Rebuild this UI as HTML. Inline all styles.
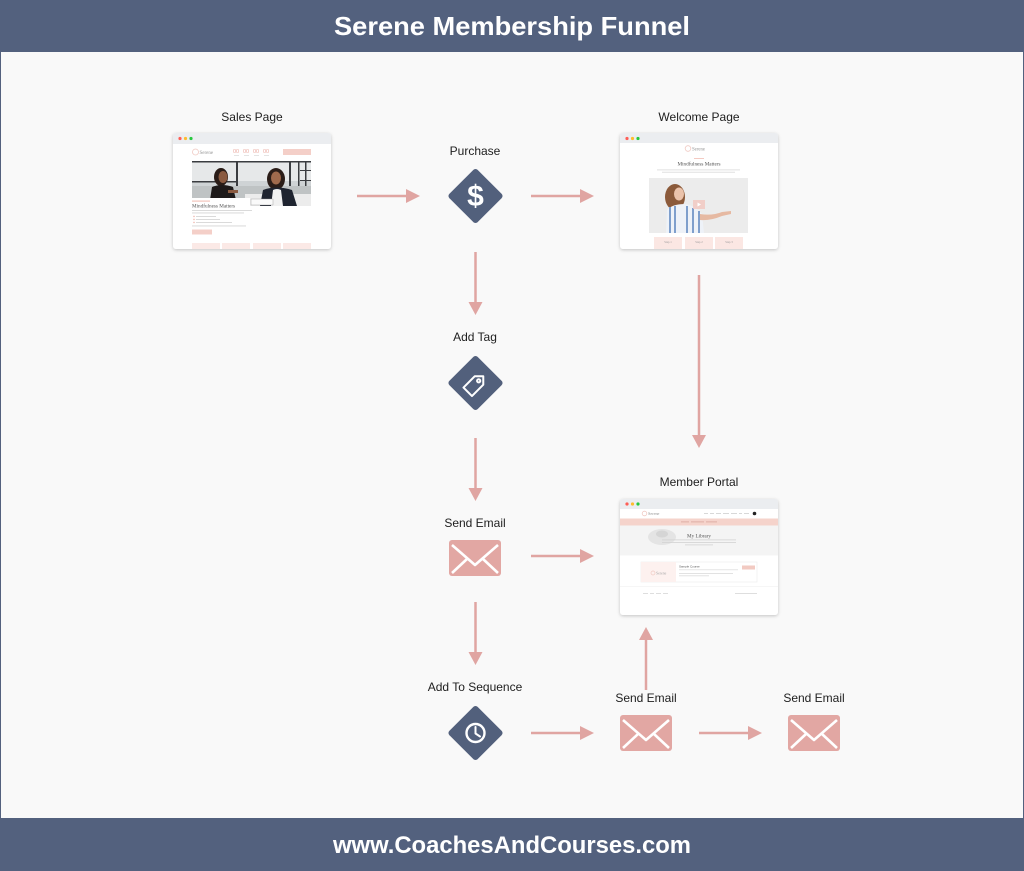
<!DOCTYPE html>
<html><head><meta charset="utf-8">
<style>
html,body{margin:0;padding:0;background:#53617e;}
svg{display:block;}
</style></head>
<body>
<svg width="1024" height="871" viewBox="0 0 1024 871" xmlns="http://www.w3.org/2000/svg" font-family="Liberation Sans, sans-serif">
<defs>
<filter id="sh" x="-10%" y="-10%" width="120%" height="130%">
<feDropShadow dx="0" dy="1" stdDeviation="1.5" flood-color="#000" flood-opacity="0.22"/>
</filter>
<g id="arrowR"><line x1="0" y1="0" x2="50" y2="0" stroke="#e0a5a2" stroke-width="2.5"/><polygon points="49,-7 63,0 49,7" fill="#e0a5a2"/></g>
<g id="env">
<rect x="0" y="0" width="52" height="36" rx="3" fill="#e2a7a3"/>
<polyline points="3,5 26,25 49,5" fill="none" stroke="#fff" stroke-width="2.6" stroke-linejoin="round"/>
<line x1="3" y1="33" x2="18" y2="19" stroke="#fff" stroke-width="2.6"/>
<line x1="49" y1="33" x2="34" y2="19" stroke="#fff" stroke-width="2.6"/>
</g>
<g id="dia"><rect x="-20" y="-20" width="40" height="40" rx="3" fill="#52607c" transform="rotate(45)"/></g>
</defs>

<!-- background -->
<rect x="0" y="0" width="1024" height="871" fill="#53617e"/>
<rect x="1" y="52" width="1022" height="766" fill="#f9f9f9"/>

<text x="512" y="35" text-anchor="middle" font-size="26" font-weight="bold" fill="#fff" textLength="356" lengthAdjust="spacingAndGlyphs">Serene Membership Funnel</text>
<text x="512" y="853" text-anchor="middle" font-size="24" font-weight="bold" fill="#fff" textLength="358" lengthAdjust="spacingAndGlyphs">www.CoachesAndCourses.com</text>

<!-- labels -->
<g font-size="12" fill="#1e1e1e" text-anchor="middle">
<text x="252" y="121">Sales Page</text>
<text x="475" y="155">Purchase</text>
<text x="699" y="121">Welcome Page</text>
<text x="475" y="341">Add Tag</text>
<text x="699" y="486">Member Portal</text>
<text x="475" y="527">Send Email</text>
<text x="475" y="691">Add To Sequence</text>
<text x="646" y="702">Send Email</text>
<text x="814" y="702">Send Email</text>
</g>

<!-- arrows -->
<use href="#arrowR" x="357" y="196"/>
<use href="#arrowR" x="531" y="196"/>
<use href="#arrowR" x="531" y="556"/>
<use href="#arrowR" x="531" y="733"/>
<use href="#arrowR" x="699" y="733"/>
<g fill="#e0a5a2" stroke="#e0a5a2">
<line x1="475.5" y1="252" x2="475.5" y2="303" stroke-width="2.5"/><polygon points="468.5,302 482.5,302 475.5,315" stroke="none"/>
<line x1="475.5" y1="438" x2="475.5" y2="489" stroke-width="2.5"/><polygon points="468.5,488 482.5,488 475.5,501" stroke="none"/>
<line x1="475.5" y1="602" x2="475.5" y2="653" stroke-width="2.5"/><polygon points="468.5,652 482.5,652 475.5,665" stroke="none"/>
<line x1="699" y1="275" x2="699" y2="436" stroke-width="2.5"/><polygon points="692,435 706,435 699,448" stroke="none"/>
<line x1="646" y1="690" x2="646" y2="639" stroke-width="2.5"/><polygon points="639,640 653,640 646,627" stroke="none"/>
</g>

<!-- diamonds -->
<use href="#dia" x="475.5" y="196"/>
<text x="475.5" y="206" text-anchor="middle" font-size="30" font-weight="bold" fill="#fff">$</text>
<use href="#dia" x="475.5" y="383"/>
<g transform="translate(475.5,384) rotate(-45)" fill="none" stroke="#fff" stroke-width="2" stroke-linejoin="round">
<path d="M-11,-6 L5,-6 L11,0 L5,6 L-11,6 Z"/>
<circle cx="4.5" cy="0" r="1.6"/>
</g>
<use href="#dia" x="475.5" y="733"/>
<circle cx="475.5" cy="733" r="9" fill="none" stroke="#fff" stroke-width="2.4"/>
<polyline points="475.5,727 475.5,733.5 480,736.5" fill="none" stroke="#fff" stroke-width="2" stroke-linecap="round" stroke-linejoin="round"/>

<!-- envelopes -->
<use href="#env" x="449" y="540"/>
<use href="#env" x="620" y="715"/>
<use href="#env" x="788" y="715"/>

<!-- SALES PAGE window -->
<g>
<rect x="173" y="133" width="158" height="116" rx="3" fill="#fff" filter="url(#sh)"/>
<path d="M173,144 L173,136 Q173,133 176,133 L328,133 Q331,133 331,136 L331,144 Z" fill="#ebedf0"/>
<circle cx="180" cy="138.5" r="1.6" fill="#fe5f57"/><circle cx="185.5" cy="138.5" r="1.6" fill="#febc2e"/><circle cx="191" cy="138.5" r="1.6" fill="#28c840"/>
<circle cx="195.5" cy="152" r="3" fill="none" stroke="#f0c9c2" stroke-width="0.8"/>
<text x="199.5" y="154" font-size="5" fill="#999" font-family="Liberation Serif, serif">Serene</text>
<g fill="#eaa89f" font-size="5.5"><text x="233" y="153">00</text><text x="243" y="153">00</text><text x="253" y="153">00</text><text x="263" y="153">00</text></g>
<g fill="#ddd"><rect x="234" y="155" width="5" height="0.8"/><rect x="244" y="155" width="5" height="0.8"/><rect x="254" y="155" width="5" height="0.8"/><rect x="264" y="155" width="5" height="0.8"/></g>
<rect x="283" y="149" width="28" height="6" fill="#f4cfc8"/>
<!-- photo -->
<rect x="192" y="161" width="119" height="45" fill="#cfd3d5"/>
<rect x="192" y="161" width="119" height="20" fill="#e6e8e9"/>
<g fill="#3a3c40"><rect x="192" y="161" width="119" height="1.5"/><rect x="236" y="161" width="2" height="25"/><rect x="289" y="161" width="2" height="30"/><rect x="298" y="161" width="1.5" height="30"/><rect x="305" y="161" width="1.5" height="30"/><rect x="192" y="181" width="44" height="1.5"/><rect x="300" y="170" width="11" height="1"/><rect x="300" y="180" width="11" height="1"/></g>
<rect x="192" y="186" width="119" height="20" fill="#bfc3c4"/>
<rect x="245" y="194" width="66" height="12" fill="#ececec"/>
<ellipse cx="221" cy="177" rx="7" ry="9" fill="#2a1c17"/>
<ellipse cx="223" cy="177" rx="4.5" ry="6" fill="#8a5a40"/>
<path d="M210,200 L212,187 Q222,183 233,187 L236,200 Z" fill="#1e1a1a"/>
<rect x="228" y="190" width="10" height="3" fill="#8a5a40"/>
<ellipse cx="276" cy="179" rx="9" ry="11" fill="#2b1d18"/>
<ellipse cx="276" cy="178" rx="5" ry="6.5" fill="#a06a4c"/>
<path d="M260,206 L263,190 Q276,185 292,190 L297,206 Z" fill="#1f2430"/>
<path d="M271,206 L273,190 Q277,188 281,190 L283,206 Z" fill="#f1f1f1"/>
<rect x="251" y="199" width="22" height="6" fill="#fafafa" stroke="#999" stroke-width="0.4"/>
<!-- white card -->
<rect x="192" y="198" width="58" height="42" fill="#fff"/>
<rect x="192" y="200.5" width="18" height="1.2" fill="#f3c4bb"/>
<text x="192" y="207.5" font-size="5.2" fill="#555" font-family="Liberation Serif, serif">Mindfulness Matters</text>
<g fill="#d6d6d6"><rect x="192" y="210" width="60" height="0.9"/><rect x="192" y="212.5" width="52" height="0.9"/><rect x="196" y="216" width="20" height="0.9"/><rect x="196" y="219" width="24" height="0.9"/><rect x="196" y="222" width="36" height="0.9"/><rect x="192" y="225.5" width="54" height="0.9"/></g>
<g fill="#f0b9af"><circle cx="194" cy="216.4" r="0.8"/><circle cx="194" cy="219.4" r="0.8"/><circle cx="194" cy="222.4" r="0.8"/></g>
<rect x="192" y="229.5" width="20" height="5" fill="#f4cfc8"/>
<g fill="#fbe9e6"><rect x="192" y="243" width="28" height="6"/><rect x="222" y="243" width="28" height="6"/><rect x="253" y="243" width="28" height="6"/><rect x="283" y="243" width="28" height="6"/></g>
</g>

<!-- WELCOME PAGE window -->
<g>
<rect x="620" y="133" width="158" height="116" rx="3" fill="#fff" filter="url(#sh)"/>
<path d="M620,143 L620,136 Q620,133 623,133 L775,133 Q778,133 778,136 L778,143 Z" fill="#ebedf0"/>
<circle cx="627" cy="138.5" r="1.6" fill="#fe5f57"/><circle cx="632.5" cy="138.5" r="1.6" fill="#febc2e"/><circle cx="638" cy="138.5" r="1.6" fill="#28c840"/>
<circle cx="688" cy="148.5" r="2.8" fill="none" stroke="#f0c9c2" stroke-width="0.8"/>
<text x="692" y="150.5" font-size="4.8" fill="#999" font-family="Liberation Serif, serif">Serene</text>
<rect x="694" y="158" width="10" height="0.9" fill="#f3c4bb"/>
<text x="699" y="165.5" text-anchor="middle" font-size="5.2" fill="#555" font-family="Liberation Serif, serif">Mindfulness Matters</text>
<g fill="#d8d8d8"><rect x="657" y="169.5" width="83" height="0.8"/><rect x="662" y="171.8" width="73" height="0.8"/></g>
<rect x="649" y="178" width="99" height="55" fill="#ececec"/>
<ellipse cx="675" cy="197" rx="10" ry="13" fill="#8b5a3a"/>
<ellipse cx="679" cy="194" rx="5" ry="6.5" fill="#ebc3ab"/>
<path d="M666,233 L667,210 Q672,204 685,204 Q696,206 702,214 L704,233 Z" fill="#eef2f8"/>
<g fill="#7f9fcc"><rect x="669" y="207" width="2" height="26"/><rect x="674" y="206" width="2" height="27"/><rect x="686" y="206" width="2" height="27"/><rect x="692" y="208" width="2" height="25"/><rect x="698" y="211" width="2" height="22"/></g>
<path d="M700,214 Q712,216 722,212 L731,211 L731,214 L722,216 Q710,221 700,220 Z" fill="#e6b9a2"/>
<rect x="693" y="200" width="12" height="9" fill="#f2c7bf" opacity="0.8"/>
<polygon points="697.5,202.5 697.5,206.5 701,204.5" fill="#fff"/>
<g fill="#fbe7e3"><rect x="654" y="237" width="28" height="12"/><rect x="685" y="237" width="28" height="12"/><rect x="715" y="237" width="28" height="12"/></g>
<g fill="#999" font-size="3" font-family="Liberation Serif, serif" text-anchor="middle"><text x="668" y="243">Step 1</text><text x="699" y="243">Step 2</text><text x="729" y="243">Step 3</text></g>
</g>

<!-- MEMBER PORTAL window -->
<g>
<rect x="620" y="499" width="158" height="116" rx="3" fill="#fff" filter="url(#sh)"/>
<path d="M620,509 L620,502 Q620,499 623,499 L775,499 Q778,499 778,502 L778,509 Z" fill="#ebedf0"/>
<circle cx="627" cy="504" r="1.6" fill="#fe5f57"/><circle cx="632.5" cy="504" r="1.6" fill="#febc2e"/><circle cx="638" cy="504" r="1.6" fill="#28c840"/>
<circle cx="644.5" cy="513.5" r="2.3" fill="none" stroke="#f0c9c2" stroke-width="0.8"/>
<text x="648" y="515" font-size="4.2" fill="#999" font-family="Liberation Serif, serif">Serene</text>
<g fill="#cfcfcf"><rect x="704" y="513" width="4" height="0.8"/><rect x="710" y="513" width="4" height="0.8"/><rect x="716" y="513" width="5" height="0.8"/><rect x="723" y="513" width="6" height="0.8"/><rect x="731" y="513" width="6" height="0.8"/><rect x="739" y="513" width="3" height="0.8"/><rect x="744" y="513" width="5" height="0.8"/></g>
<circle cx="754.5" cy="513.5" r="1.8" fill="#222"/>
<rect x="620" y="518.5" width="158" height="7" fill="#f5d3cb"/>
<g fill="#d9a69c"><rect x="681" y="521.5" width="8" height="0.8"/><rect x="691" y="521.5" width="13" height="0.8"/><rect x="706" y="521.5" width="11" height="0.8"/></g>
<rect x="620" y="525.5" width="158" height="30" fill="#f4f4f4"/>
<ellipse cx="662" cy="537" rx="14" ry="8" fill="#e4e4e4"/>
<ellipse cx="662" cy="534" rx="6" ry="3.5" fill="#d5d5d5"/>
<text x="699" y="537.5" text-anchor="middle" font-size="5.2" fill="#555" font-family="Liberation Serif, serif">My Library</text>
<g fill="#d2d2d2"><rect x="662" y="539.5" width="74" height="0.8"/><rect x="662" y="542" width="74" height="0.8"/><rect x="685" y="544.5" width="28" height="0.8"/></g>
<rect x="641" y="562" width="116" height="20" fill="#fff" stroke="#ececec" stroke-width="0.6"/>
<rect x="641" y="562" width="35" height="20" fill="#fdf1ef"/>
<circle cx="653" cy="573" r="2" fill="none" stroke="#f0c9c2" stroke-width="0.7"/>
<text x="656" y="574.5" font-size="3.8" fill="#aaa" font-family="Liberation Serif, serif">Serene</text>
<text x="679" y="567.5" font-size="3" fill="#555">Sample Course</text>
<rect x="679" y="569" width="59" height="1.3" fill="#ebebeb"/>
<rect x="742" y="565.5" width="13" height="4" fill="#f2cac2"/>
<g fill="#d6d6d6"><rect x="679" y="573" width="54" height="0.7"/><rect x="679" y="575.5" width="30" height="0.7"/></g>
<rect x="620" y="586" width="158" height="0.5" fill="#eee"/>
<g fill="#cfcfcf"><rect x="643" y="593" width="5" height="0.7"/><rect x="650" y="593" width="4" height="0.7"/><rect x="656" y="593" width="5" height="0.7"/><rect x="663" y="593" width="5" height="0.7"/><rect x="735" y="593" width="22" height="0.7"/></g>
</g>
</svg>
</body></html>
